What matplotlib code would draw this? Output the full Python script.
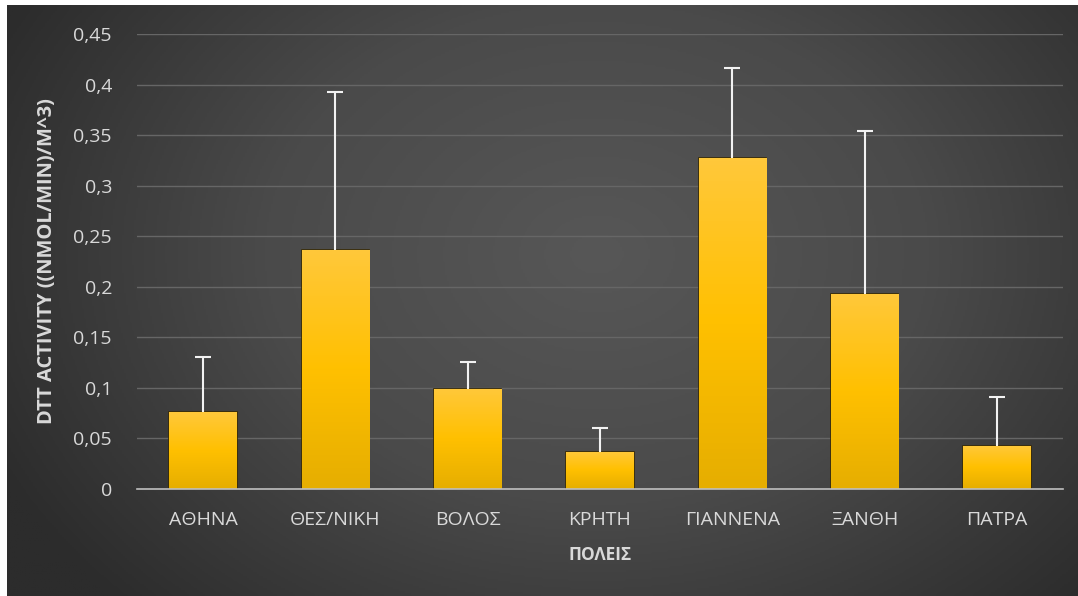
import numpy as np
import matplotlib
matplotlib.use("Agg")
import matplotlib.pyplot as plt
from matplotlib.colors import LinearSegmentedColormap

cities = ["ΑΘΗΝΑ", "ΘΕΣ/ΝΙΚΗ", "ΒΟΛΟΣ", "ΚΡΗΤΗ", "ΓΙΑΝΝΕΝΑ", "ΞΑΝΘΗ", "ΠΑΤΡΑ"]
dtt_values = [0.076, 0.236, 0.099, 0.037, 0.327, 0.193, 0.043]
dtt_errors = [0.055, 0.157, 0.027, 0.023, 0.089, 0.161, 0.048]
y_ticks = [0, 0.05, 0.1, 0.15, 0.2, 0.25, 0.3, 0.35, 0.4, 0.45]
y_tick_labels = ["0", "0,05", "0,1", "0,15", "0,2", "0,25", "0,3", "0,35", "0,4", "0,45"]

plt.rcParams['font.family'] = ['Open Sans', 'DejaVu Sans']

W, H = 1078, 596
fig = plt.figure(figsize=(W / 100, H / 100), dpi=100)
fig.patch.set_facecolor("white")

# background panel with radial gradient
bg = fig.add_axes([7 / W, 0, 1 - 7 / W, 1 - 5 / H])
bg.set_axis_off()
ny, nx = 300, 540
yy, xx = np.mgrid[0:ny, 0:nx]
cx, cy = nx * 0.55, ny * 0.42
r = np.sqrt(((xx - cx) / (nx * 0.62)) ** 2 + ((yy - cy) / (ny * 0.85)) ** 2)
r = np.clip(r, 0, 1)
bg_cmap = LinearSegmentedColormap.from_list("bg", ["#575757", "#4a4a4a", "#2c2c2c"])
bg.imshow(r, cmap=bg_cmap, aspect="auto", extent=[0, 1, 0, 1], vmin=0, vmax=1)
bg.set_xlim(0, 1)
bg.set_ylim(0, 1)

ax = fig.add_axes([137 / W, 1 - 489 / H, (1063 - 137) / W, (489 - 34) / H])
ax.patch.set_alpha(0)
x = np.arange(len(cities))
bars = ax.bar(x, dtt_values, width=0.51, color="#ffc000", zorder=3,
              edgecolor="#3a2c05", linewidth=1.2)
grad_cmap = LinearSegmentedColormap.from_list("gold", ["#e6ae00", "#ffc000", "#ffc83a"])
grad = np.linspace(0, 1, 100).reshape(-1, 1)
for b in bars:
    bx, by = b.get_x(), b.get_y()
    bw, bh = b.get_width(), b.get_height()
    im = ax.imshow(grad, cmap=grad_cmap, aspect="auto", origin="lower",
                   extent=[bx, bx + bw, by, by + bh], zorder=3.5)
    im.set_clip_path(b)

_, caps, _ = ax.errorbar(x, dtt_values, yerr=[np.zeros(len(dtt_errors)), dtt_errors],
                         fmt="none", ecolor="#f2f2f2", elinewidth=1.5, capsize=6,
                         capthick=1.5, zorder=4)
# show only the upper caps
for c in caps:
    if np.allclose(c.get_ydata(), dtt_values):
        c.set_visible(False)

ax.set_xlim(-0.5, len(cities) - 0.5)
ax.set_ylim(0, 0.45)
ax.set_yticks(y_ticks)
ax.set_yticklabels(y_tick_labels)
ax.set_xticks(x)
ax.set_xticklabels(cities)
ax.tick_params(axis="both", length=0, colors="#d9d9d9", labelsize=14)
ax.tick_params(axis="y", pad=18)
ax.tick_params(axis="x", pad=16)
ax.grid(axis="y", color="#666666", linewidth=1, zorder=0)
for s in ["top", "right", "left"]:
    ax.spines[s].set_visible(False)
ax.spines["bottom"].set_color("#bfbfbf")
ax.spines["bottom"].set_linewidth(1.2)
ax.spines["bottom"].set_zorder(5)

ax.set_ylabel("DTT ACTIVITY ((NMOL/MIN)/M^3)", color="#d9d9d9", fontsize=14.5,
              fontweight="bold", labelpad=12)
ax.set_xlabel("ΠΟΛΕΙΣ", color="#d9d9d9", fontsize=12.5, fontweight="bold", labelpad=12)

fig.savefig("out.png", dpi=100, facecolor=fig.get_facecolor())
